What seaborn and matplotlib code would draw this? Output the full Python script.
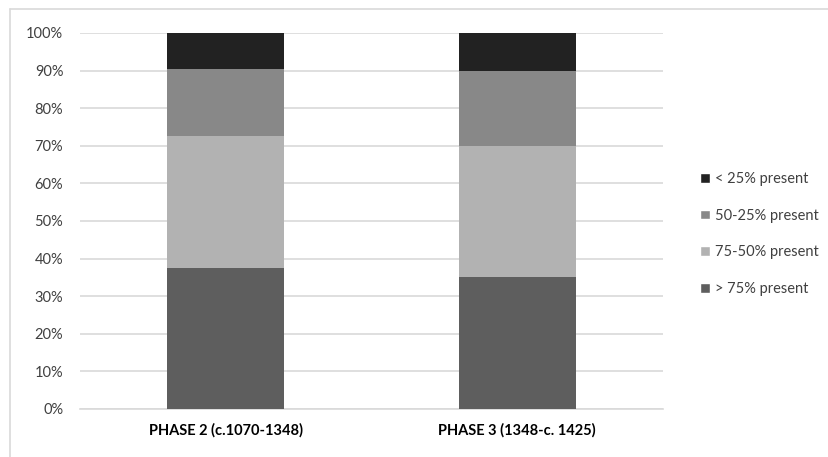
import matplotlib
matplotlib.use("Agg")
import matplotlib.pyplot as plt
import seaborn as sns
import pandas as pd
import numpy as np
from matplotlib.lines import Line2D
from matplotlib.patches import Patch

categories = ["PHASE 2 (c.1070-1348)", "PHASE 3 (1348-c. 1425)"]
series_names = ["> 75% present", "75-50% present", "50-25% present", "< 25% present"]
over75 = [37.5, 35.1]
p75_50 = [35.2, 34.9]
p50_25 = [17.6, 19.9]
under25 = [9.7, 10.1]
yticks = [0, 10, 20, 30, 40, 50, 60, 70, 80, 90, 100]
colors = ["#5e5e5e", "#b2b2b2", "#888888", "#222222"]

sns.set_theme(style="white")
plt.rcParams["font.family"] = ["Lato", "DejaVu Sans"]

fig = plt.figure(figsize=(8.29, 4.57), dpi=100)
ax = fig.add_axes([80 / 829, 1 - 409 / 457, (663 - 80) / 829, (409 - 33) / 457])

series = [over75, p75_50, p50_25, under25]
bottom = np.zeros(len(categories))
handles = []
for name, vals, col in zip(series_names, series, colors):
    df = pd.DataFrame({"cat": categories, "val": vals})
    sns.barplot(data=df, x="cat", y="val", bottom=bottom, color=col, width=0.4,
                ax=ax, saturation=1, linewidth=0, zorder=3)
    bottom = bottom + np.array(vals)
    handles.append(Patch(facecolor=col, label=name))

ax.set_ylim(0, 100)
ax.set_xlim(-0.5, 1.5)
ax.set_yticks(yticks)
ax.set_yticklabels([f"{t}%" for t in yticks], fontsize=10.5, color="#404040")
ax.set_xticklabels(categories, fontsize=10.5, fontweight="bold", color="#000000")
ax.tick_params(axis="y", length=0, pad=12)
ax.tick_params(axis="x", length=0, pad=10)
ax.set_xlabel("")
ax.set_ylabel("")
ax.yaxis.grid(True, color="#d9d9d9", linewidth=1.2, zorder=0)
ax.set_axisbelow(True)
for s in ["top", "right", "left"]:
    ax.spines[s].set_visible(False)
ax.spines["bottom"].set_color("#d9d9d9")
ax.spines["bottom"].set_linewidth(1.2)

leg = fig.legend(handles=handles[::-1], loc="center left",
                 bbox_to_anchor=(687 / 829, 1 - 234 / 457), frameon=False,
                 fontsize=10.5, handlelength=0.65, handleheight=0.65,
                 handletextpad=0.35, labelspacing=1.55, labelcolor="#404040")

# outer chart frame (left and top edges visible)
fig.add_artist(Line2D([10 / 829, 10 / 829], [0, 1 - 9 / 457], color="#d9d9d9", linewidth=1.2))
fig.add_artist(Line2D([10 / 829, 1], [1 - 9 / 457, 1 - 9 / 457], color="#d9d9d9", linewidth=1.2))

fig.savefig("out.png", dpi=100)
